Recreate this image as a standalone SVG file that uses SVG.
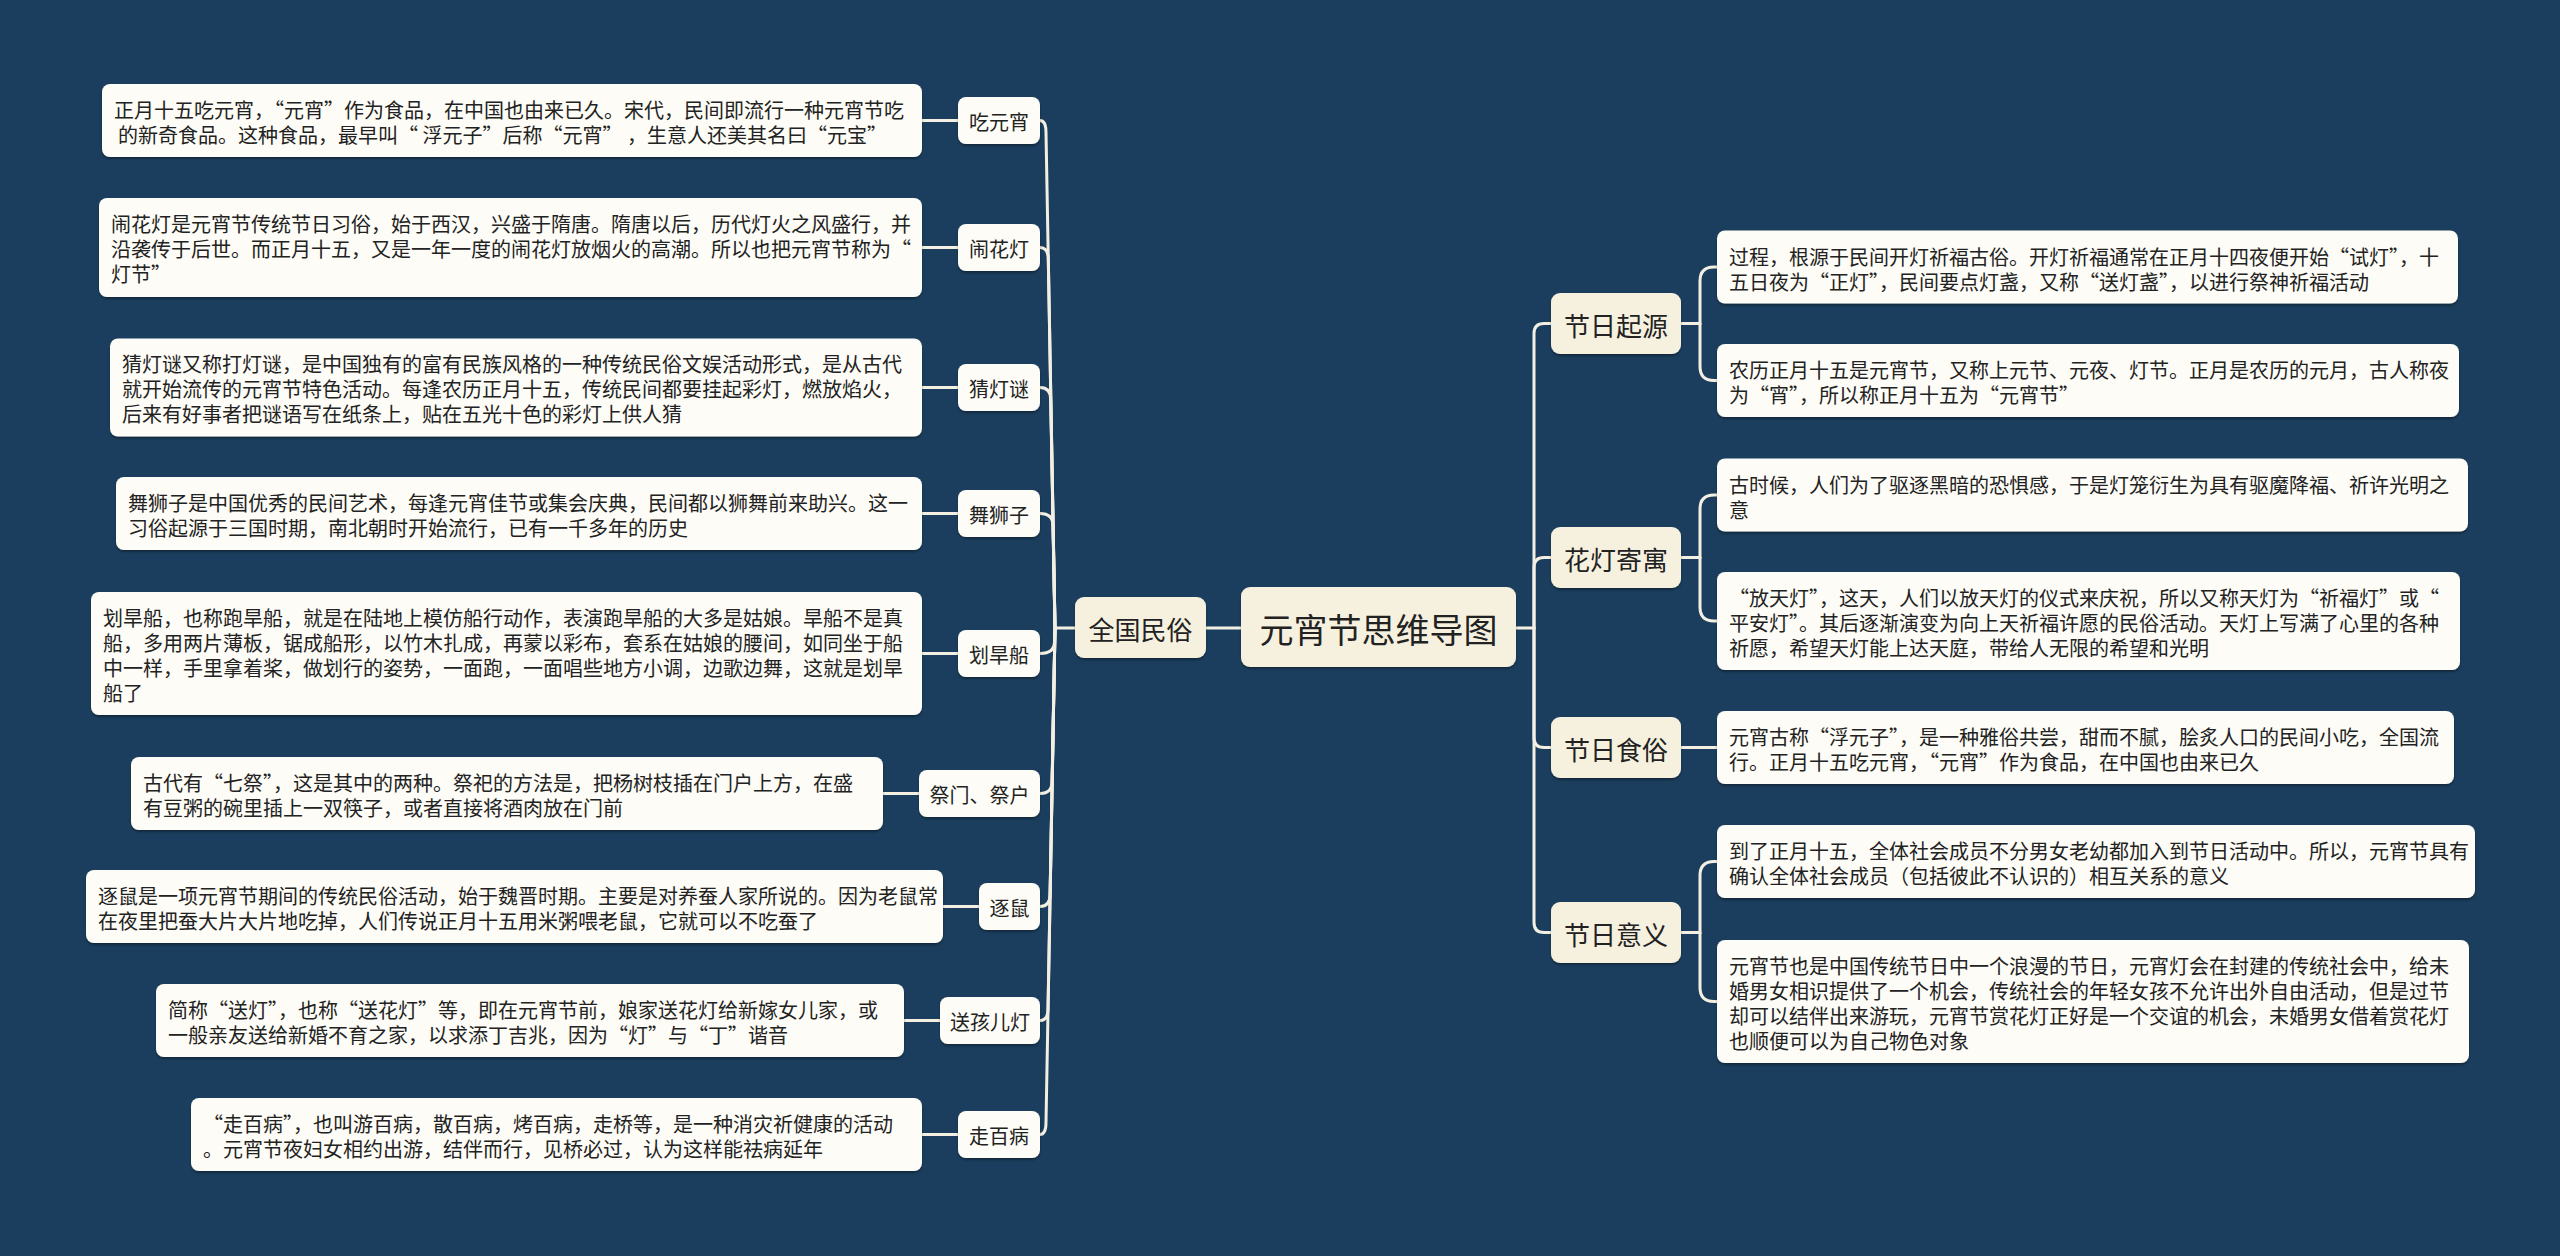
<svg xmlns="http://www.w3.org/2000/svg" width="2560" height="1256" viewBox="0 0 2560 1256">
<defs>
<filter id="sh" x="-5%" y="-20%" width="110%" height="150%">
<feDropShadow dx="0" dy="2" stdDeviation="1.2" flood-color="#000" flood-opacity="0.35"/>
</filter>
</defs>
<style>
text{font-family:"Noto Sans CJK SC","Liberation Sans",sans-serif;fill:#222;dominant-baseline:central}
.leaf{fill:#fdfcf6;filter:url(#sh)}
.lab{fill:#fdfcf6;filter:url(#sh)}
.cream{fill:#f6f1df;filter:url(#sh)}
.t20{font-size:20px}
.t26{font-size:26px;text-anchor:middle}
.t34{font-size:34px;text-anchor:middle}
.lc{font-size:20px;text-anchor:middle}
.c{fill:none;stroke:#f3efe2;stroke-width:3;stroke-linecap:round}
</style>
<rect width="2560" height="1256" fill="#1b3e5e"/>

<g id="connectors">
<path class="c" d="M1241,628 H1206"/>
<path class="c" d="M1075,628 H1055"/>
<path class="c" d="M1055,628 L1046,132.5 Q1046,120.5 1040,120.5"/>
<path class="c" d="M1055,628 L1048.3,259.5 Q1048.3,247.5 1040,247.5"/>
<path class="c" d="M1055,628 L1050.7,399.5 Q1050.7,387.5 1040,387.5"/>
<path class="c" d="M1055,628 L1053,525.5 Q1053,513.5 1040,513.5"/>
<path class="c" d="M1055,628 L1054.5,641.5 Q1054.5,653.5 1040,653.5"/>
<path class="c" d="M1055,628 L1052.1,781.5 Q1052.1,793.5 1040,793.5"/>
<path class="c" d="M1055,628 L1050.1,894.5 Q1050.1,906.5 1040,906.5"/>
<path class="c" d="M1055,628 L1048,1008.5 Q1048,1020.5 1040,1020.5"/>
<path class="c" d="M1055,628 L1046,1122.5 Q1046,1134.5 1040,1134.5"/>
<path class="c" d="M922,120.5 H958"/>
<path class="c" d="M922,247.5 H958"/>
<path class="c" d="M922,387.5 H958"/>
<path class="c" d="M922,513.5 H958"/>
<path class="c" d="M922,653.5 H958"/>
<path class="c" d="M883,793.5 H919"/>
<path class="c" d="M943,906.5 H979"/>
<path class="c" d="M904,1020.5 H940"/>
<path class="c" d="M922,1134.5 H958"/>
<path class="c" d="M1516,628 H1534"/>
<path class="c" d="M1534,628 V333.5 Q1534,323.5 1544,323.5 H1551"/>
<path class="c" d="M1534,628 V567.5 Q1534,557.5 1544,557.5 H1551"/>
<path class="c" d="M1534,628 V737.5 Q1534,747.5 1544,747.5 H1551"/>
<path class="c" d="M1534,628 V922.5 Q1534,932.5 1544,932.5 H1551"/>
<path class="c" d="M1681,323.5 H1700 V281 Q1700,267 1714,267 H1717"/>
<path class="c" d="M1700,323.5 V366.5 Q1700,380.5 1714,380.5 H1717"/>
<path class="c" d="M1681,557.5 H1700 V509 Q1700,495 1714,495 H1717"/>
<path class="c" d="M1700,557.5 V607 Q1700,621 1714,621 H1717"/>
<path class="c" d="M1681,747.5 H1717"/>
<path class="c" d="M1681,932.5 H1700 V875.5 Q1700,861.5 1714,861.5 H1717"/>
<path class="c" d="M1700,932.5 V987.5 Q1700,1001.5 1714,1001.5 H1717"/>
</g>

<g id="root">
<rect class="cream" x="1241" y="587" width="275" height="80" rx="9"/>
<text class="t34" x="1378.5" y="628">元宵节思维导图</text>
</g>

<g id="n-quanguo">
<rect class="cream" x="1075" y="597" width="131" height="61" rx="9"/>
<text class="t26" x="1140.5" y="628">全国民俗</text>
</g>

<g id="n-chiyuanxiao">
<rect class="lab" x="958" y="97" width="82" height="47" rx="8"/>
<text class="lc" x="999" y="121.5">吃元宵</text>
</g>
<g id="n-naohuadeng">
<rect class="lab" x="958" y="224" width="82" height="47" rx="8"/>
<text class="lc" x="999" y="248.5">闹花灯</text>
</g>
<g id="n-caidengmi">
<rect class="lab" x="958" y="364" width="82" height="47" rx="8"/>
<text class="lc" x="999" y="388.5">猜灯谜</text>
</g>
<g id="n-wushizi">
<rect class="lab" x="958" y="490" width="82" height="47" rx="8"/>
<text class="lc" x="999" y="514.5">舞狮子</text>
</g>
<g id="n-huahanchuan">
<rect class="lab" x="958" y="630" width="82" height="47" rx="8"/>
<text class="lc" x="999" y="654.5">划旱船</text>
</g>
<g id="n-jimen">
<rect class="lab" x="919" y="770" width="121" height="47" rx="8"/>
<text class="lc" x="979.5" y="794.5">祭门、祭户</text>
</g>
<g id="n-zhushu">
<rect class="lab" x="979" y="883" width="61" height="47" rx="8"/>
<text class="lc" x="1009.5" y="907.5">逐鼠</text>
</g>
<g id="n-songhaierdeng">
<rect class="lab" x="940" y="997" width="100" height="47" rx="8"/>
<text class="lc" x="990" y="1021.5">送孩儿灯</text>
</g>
<g id="n-zoubaibing">
<rect class="lab" x="958" y="1111" width="82" height="47" rx="8"/>
<text class="lc" x="999" y="1135.5">走百病</text>
</g>

<g id="leaf-chiyuanxiao">
<rect class="leaf" x="102" y="84" width="820" height="73" rx="8"/>
<text class="t20"><tspan x="114" y="109">正月十五吃元宵，“元宵”作为食品，在中国也由来已久。宋代，民间即流行一种元宵节吃</tspan><tspan x="118" y="134">的新奇食品。这种食品，最早叫“ 浮元子”后称“元宵” ，生意人还美其名曰“元宝”</tspan></text>
</g>
<g id="leaf-naohuadeng">
<rect class="leaf" x="99" y="198" width="823" height="99" rx="8"/>
<text class="t20"><tspan x="111" y="223">闹花灯是元宵节传统节日习俗，始于西汉，兴盛于隋唐。隋唐以后，历代灯火之风盛行，并</tspan><tspan x="111" y="248">沿袭传于后世。而正月十五，又是一年一度的闹花灯放烟火的高潮。所以也把元宵节称为“</tspan><tspan x="111" y="273">灯节”</tspan></text>
</g>
<g id="leaf-caidengmi">
<rect class="leaf" x="110" y="338.5" width="812" height="98" rx="8"/>
<text class="t20"><tspan x="122" y="363">猜灯谜又称打灯谜，是中国独有的富有民族风格的一种传统民俗文娱活动形式，是从古代</tspan><tspan x="122" y="388">就开始流传的元宵节特色活动。每逢农历正月十五，传统民间都要挂起彩灯，燃放焰火，</tspan><tspan x="122" y="413">后来有好事者把谜语写在纸条上，贴在五光十色的彩灯上供人猜</tspan></text>
</g>
<g id="leaf-wushizi">
<rect class="leaf" x="116" y="477" width="806" height="73" rx="8"/>
<text class="t20"><tspan x="128" y="502">舞狮子是中国优秀的民间艺术，每逢元宵佳节或集会庆典，民间都以狮舞前来助兴。这一</tspan><tspan x="128" y="527">习俗起源于三国时期，南北朝时开始流行，已有一千多年的历史</tspan></text>
</g>
<g id="leaf-huahanchuan">
<rect class="leaf" x="91" y="592" width="831" height="123" rx="8"/>
<text class="t20"><tspan x="103" y="617">划旱船，也称跑旱船，就是在陆地上模仿船行动作，表演跑旱船的大多是姑娘。旱船不是真</tspan><tspan x="103" y="642">船，多用两片薄板，锯成船形，以竹木扎成，再蒙以彩布，套系在姑娘的腰间，如同坐于船</tspan><tspan x="103" y="667">中一样，手里拿着桨，做划行的姿势，一面跑，一面唱些地方小调，边歌边舞，这就是划旱</tspan><tspan x="103" y="692">船了</tspan></text>
</g>
<g id="leaf-jimen">
<rect class="leaf" x="131" y="757" width="752" height="73" rx="8"/>
<text class="t20"><tspan x="143" y="782">古代有“七祭”，这是其中的两种。祭祀的方法是，把杨树枝插在门户上方，在盛</tspan><tspan x="143" y="807">有豆粥的碗里插上一双筷子，或者直接将酒肉放在门前</tspan></text>
</g>
<g id="leaf-zhushu">
<rect class="leaf" x="86" y="870" width="857" height="73" rx="8"/>
<text class="t20"><tspan x="98" y="895">逐鼠是一项元宵节期间的传统民俗活动，始于魏晋时期。主要是对养蚕人家所说的。因为老鼠常</tspan><tspan x="98" y="920">在夜里把蚕大片大片地吃掉，人们传说正月十五用米粥喂老鼠，它就可以不吃蚕了</tspan></text>
</g>
<g id="leaf-songhaierdeng">
<rect class="leaf" x="156" y="984" width="748" height="73" rx="8"/>
<text class="t20"><tspan x="168" y="1009">简称“送灯”，也称“送花灯”等，即在元宵节前，娘家送花灯给新嫁女儿家，或</tspan><tspan x="168" y="1034">一般亲友送给新婚不育之家，以求添丁吉兆，因为“灯”与“丁”谐音</tspan></text>
</g>
<g id="leaf-zoubaibing">
<rect class="leaf" x="191" y="1098" width="731" height="73" rx="8"/>
<text class="t20"><tspan x="203" y="1123">“走百病”，也叫游百病，散百病，烤百病，走桥等，是一种消灾祈健康的活动</tspan><tspan x="203" y="1148">。元宵节夜妇女相约出游，结伴而行，见桥必过，认为这样能祛病延年</tspan></text>
</g>

<g id="n-qiyuan">
<rect class="cream" x="1551" y="293" width="130" height="61" rx="9"/>
<text class="t26" x="1616" y="324">节日起源</text>
</g>
<g id="n-huadeng">
<rect class="cream" x="1551" y="527" width="130" height="61" rx="9"/>
<text class="t26" x="1616" y="558">花灯寄寓</text>
</g>
<g id="n-shisu">
<rect class="cream" x="1551" y="717" width="130" height="61" rx="9"/>
<text class="t26" x="1616" y="748">节日食俗</text>
</g>
<g id="n-yiyi">
<rect class="cream" x="1551" y="902" width="130" height="61" rx="9"/>
<text class="t26" x="1616" y="933">节日意义</text>
</g>

<g id="leaf-qiyuan-1">
<rect class="leaf" x="1717" y="230.5" width="741" height="73" rx="8"/>
<text class="t20"><tspan x="1729" y="255.5">过程，根源于民间开灯祈福古俗。开灯祈福通常在正月十四夜便开始“试灯”，十</tspan><tspan x="1729" y="280.5">五日夜为“正灯”，民间要点灯盏，又称“送灯盏”，以进行祭神祈福活动</tspan></text>
</g>
<g id="leaf-qiyuan-2">
<rect class="leaf" x="1717" y="344" width="742" height="73" rx="8"/>
<text class="t20"><tspan x="1729" y="369">农历正月十五是元宵节，又称上元节、元夜、灯节。正月是农历的元月，古人称夜</tspan><tspan x="1729" y="394">为“宵”，所以称正月十五为“元宵节”</tspan></text>
</g>
<g id="leaf-huadeng-1">
<rect class="leaf" x="1717" y="458.5" width="751" height="73" rx="8"/>
<text class="t20"><tspan x="1729" y="483.5">古时候，人们为了驱逐黑暗的恐惧感，于是灯笼衍生为具有驱魔降福、祈许光明之</tspan><tspan x="1729" y="508.5">意</tspan></text>
</g>
<g id="leaf-huadeng-2">
<rect class="leaf" x="1717" y="572" width="743" height="98" rx="8"/>
<text class="t20"><tspan x="1729" y="597">“放天灯”，这天，人们以放天灯的仪式来庆祝，所以又称天灯为“祈福灯”或“</tspan><tspan x="1729" y="622">平安灯”。其后逐渐演变为向上天祈福许愿的民俗活动。天灯上写满了心里的各种</tspan><tspan x="1729" y="647">祈愿，希望天灯能上达天庭，带给人无限的希望和光明</tspan></text>
</g>
<g id="leaf-shisu">
<rect class="leaf" x="1717" y="711" width="737" height="73" rx="8"/>
<text class="t20"><tspan x="1729" y="736">元宵古称“浮元子”，是一种雅俗共尝，甜而不腻，脍炙人口的民间小吃，全国流</tspan><tspan x="1729" y="761">行。正月十五吃元宵，“元宵”作为食品，在中国也由来已久</tspan></text>
</g>
<g id="leaf-yiyi-1">
<rect class="leaf" x="1717" y="825" width="758" height="73" rx="8"/>
<text class="t20"><tspan x="1729" y="850">到了正月十五，全体社会成员不分男女老幼都加入到节日活动中。所以，元宵节具有</tspan><tspan x="1729" y="875">确认全体社会成员（包括彼此不认识的）相互关系的意义</tspan></text>
</g>
<g id="leaf-yiyi-2">
<rect class="leaf" x="1717" y="940" width="752" height="123" rx="8"/>
<text class="t20"><tspan x="1729" y="965">元宵节也是中国传统节日中一个浪漫的节日，元宵灯会在封建的传统社会中，给未</tspan><tspan x="1729" y="990">婚男女相识提供了一个机会，传统社会的年轻女孩不允许出外自由活动，但是过节</tspan><tspan x="1729" y="1015">却可以结伴出来游玩，元宵节赏花灯正好是一个交谊的机会，未婚男女借着赏花灯</tspan><tspan x="1729" y="1040">也顺便可以为自己物色对象</tspan></text>
</g>
</svg>
